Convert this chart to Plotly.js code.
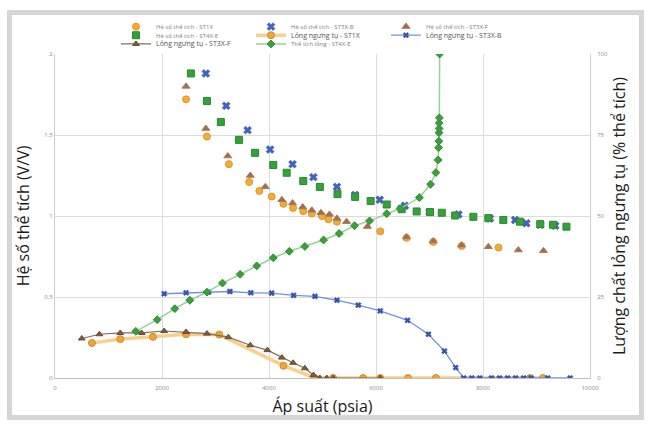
<!DOCTYPE html>
<html><head><meta charset="utf-8">
<script src="https://cdn.plot.ly/plotly-3.0.1.min.js"></script>
<style>
html,body{margin:0;padding:0;background:#fff;}
#wrap{position:relative;width:651px;height:426px;}
#chart{position:absolute;left:0;top:0;width:651px;height:426px;}
#frame{position:absolute;left:7px;top:10px;width:627px;height:400px;border:5px solid #d6d6d6;pointer-events:none;}
</style></head>
<body><div id="wrap"><div id="chart"></div><div id="frame"></div></div>
<script>
// Volume factor (V/V), left axis
const pST1X = [2450, 2840, 3250, 3630, 3820, 4050, 4270, 4450, 4640, 4800, 4990, 5110, 5270, 6080, 6570, 7070, 7600, 8290];
const vST1X = [1.72, 1.49, 1.32, 1.21, 1.155, 1.12, 1.075, 1.05, 1.03, 1.015, 1.0, 0.98, 0.965, 0.905, 0.865, 0.84, 0.815, 0.805];
const pST3XB = [2820, 3200, 3600, 4020, 4440, 4830, 5270, 5610, 6070, 6540, 7000, 7540, 8130, 8600, 8810, 9070, 9350];
const vST3XB = [1.88, 1.68, 1.53, 1.41, 1.32, 1.24, 1.18, 1.13, 1.10, 1.063, 1.025, 1.01, 0.985, 0.975, 0.955, 0.945, 0.94];
const pST3XF = [2450, 2820, 3230, 3650, 3930, 4240, 4440, 4630, 4800, 4970, 5130, 5270, 5450, 5840, 6570, 7070, 7600, 8100, 8660, 9130];
const vST3XF = [1.80, 1.54, 1.37, 1.25, 1.18, 1.10, 1.08, 1.055, 1.035, 1.02, 1.01, 0.985, 0.965, 0.935, 0.87, 0.845, 0.82, 0.81, 0.79, 0.785];
const pST4XE = [2540, 2840, 3100, 3440, 3740, 4080, 4330, 4640, 4950, 5280, 5610, 5900, 6200, 6480, 6760, 7010, 7230, 7480, 7820, 8100, 8380, 8690, 9070, 9310, 9560];
const vST4XE = [1.88, 1.71, 1.58, 1.47, 1.39, 1.315, 1.267, 1.216, 1.179, 1.135, 1.118, 1.092, 1.071, 1.042, 1.028, 1.024, 1.02, 1.003, 0.995, 0.987, 0.975, 0.965, 0.95, 0.946, 0.934];

// Condensate liquid (% volume), right axis
const cpST1X = [690, 1220, 1830, 2450, 3070, 4270, 4860, 5200, 5760, 6080, 6600, 7120, 8880, 9120];
const cvST1X = [10.8, 12.0, 12.7, 13.5, 13.4, 3.8, 0, 0, 0, 0, 0, 0, 0, 0];
const cpST3XB = [2040, 2450, 2870, 3270, 3660, 4050, 4460, 4860, 5270, 5670, 6080, 6590, 6980, 7280, 7490, 7640, 7790, 7940, 8160, 8310, 8460, 8610, 8760, 8900, 9210, 9630];
const cvST3XB = [26.0, 26.3, 26.5, 26.7, 26.3, 26.2, 25.5, 25.2, 24.0, 22.5, 20.7, 17.8, 13.5, 8.3, 3.2, 0, 0, 0, 0, 0, 0, 0, 0, 0, 0, 0];
const cpST3XF = [500, 830, 1220, 1620, 2040, 2450, 2840, 3240, 3650, 3970, 4240, 4450, 4670, 4830, 4950, 5080, 5200, 6080];
const cvST3XF = [12.2, 13.5, 13.9, 13.9, 14.5, 14.2, 13.7, 12.6, 10.1, 8.6, 6.3, 4.7, 3.0, 0.9, 0, 0, 0, 0];
const cpST4XE = [1510, 1910, 2240, 2520, 2840, 3130, 3460, 3770, 4080, 4380, 4670, 5020, 5310, 5600, 5880, 6200, 6450, 6810, 7020, 7120, 7160, 7170, 7175, 7178, 7180, 7182, 7184, 7190];
const cvST4XE = [14.4, 18.0, 21.4, 24.0, 26.5, 29.3, 32.0, 34.6, 37.1, 39.1, 40.6, 42.6, 44.6, 47.0, 48.5, 50.7, 52.3, 55.7, 59.8, 63.4, 67.3, 71.1, 73.1, 75.7, 77.0, 78.7, 80.3, 100];

const xTicks = [0, 2000, 4000, 6000, 8000, 10000];
const yTicks = [0, 0.5, 1, 1.5, 2];
const y2Ticks = [0, 25, 50, 75, 100];

const big = s => '<span style="font-size:7px;fill:#555">' + s + '</span>';

const traces = [
  {x: pST1X, y: vST1X, name: 'Hệ số thể tích - ST1X', mode: 'markers', legend: 'legend',
   marker: {symbol: 'circle', size: 7, color: '#f2ab35', line: {color: '#e0962a', width: 1}}},
  {x: pST3XB, y: vST3XB, name: 'Hệ số thể tích - ST3X-B', mode: 'markers', legend: 'legend',
   marker: {symbol: 'x', size: 7, color: '#4363be', line: {color: '#2d4aa0', width: 0.5}}},
  {x: pST3XF, y: vST3XF, name: 'Hệ số thể tích - ST3X-F', mode: 'markers', legend: 'legend',
   marker: {symbol: 'triangle-up', size: 7, color: '#9b6f55', line: {color: '#b07a55', width: 1}}},
  {x: pST4XE, y: vST4XE, name: 'Hệ số thể tích - ST4X-E', mode: 'markers', legend: 'legend2',
   marker: {symbol: 'square', size: 7, color: '#36a03c', line: {color: '#2a8a30', width: 1}}},
  {x: cpST1X, y: cvST1X, yaxis: 'y2', name: big('Lỏng ngưng tụ - ST1X'), mode: 'lines+markers', legend: 'legend2',
   line: {color: '#f8cf8c', width: 3.5},
   marker: {symbol: 'circle', size: 7, color: '#eea43a', line: {color: '#d58b25', width: 1}}},
  {x: cpST3XB, y: cvST3XB, yaxis: 'y2', name: big('Lỏng ngưng tụ - ST3X-B'), mode: 'lines+markers', legend: 'legend2',
   line: {color: '#7591d8', width: 1.3},
   marker: {symbol: 'x', size: 5, color: '#3554b0', line: {color: '#2a4398', width: 0.5}}},
  {x: cpST3XF, y: cvST3XF, yaxis: 'y2', name: big('Lỏng ngưng tụ - ST3X-F'), mode: 'lines+markers', legend: 'legend3',
   line: {color: '#8a6a58', width: 1.2},
   marker: {symbol: 'triangle-up', size: 6, color: '#7e5a46', line: {color: '#6a4a38', width: 1}}},
  {x: cpST4XE, y: cvST4XE, yaxis: 'y2', name: 'Thể tích lỏng - ST4X-E', mode: 'lines+markers', legend: 'legend3',
   line: {color: '#93d493', width: 1.5},
   marker: {symbol: 'diamond', size: 6, color: '#3d9e40', line: {color: '#2f8a33', width: 1}}}
];

const legBase = {
  orientation: 'h', xanchor: 'left', yanchor: 'middle', x: 0.114,
  entrywidth: 90, entrywidthmode: 'pixels', itemwidth: 30,
  bgcolor: 'rgba(0,0,0,0)', font: {size: 6, color: '#7f7f7f', family: 'Open Sans'}
};

const layout = {
  width: 651, height: 426,
  margin: {l: 55, r: 61, t: 52, b: 48, pad: 0},
  paper_bgcolor: '#ffffff', plot_bgcolor: '#ffffff',
  font: {family: 'Open Sans', color: '#222'},
  showlegend: true,
  legend: Object.assign({}, legBase, {y: 1.0845}),
  legend2: Object.assign({}, legBase, {y: 1.058}),
  legend3: Object.assign({}, legBase, {y: 1.031}),
  xaxis: {
    range: [0, 10000], tickvals: xTicks, ticktext: xTicks.map(String),
    showgrid: true, gridcolor: '#dcdcdc', gridwidth: 1,
    zeroline: false, showline: true, linecolor: '#bfbfbf', mirror: false,
    ticks: '', ticklabelstandoff: 4, tickfont: {size: 6, color: '#8a8a8a'},
    title: {text: 'Áp suất (psia)', font: {size: 16, color: '#1a1a1a'}, standoff: 9}
  },
  yaxis: {
    range: [0, 2], tickvals: yTicks, ticktext: yTicks.map(String),
    showgrid: true, gridcolor: '#dcdcdc', gridwidth: 1,
    zeroline: false, showline: true, linecolor: '#d0d0d0',
    ticks: '', tickfont: {size: 6, color: '#8a8a8a'},
    title: {text: 'Hệ số thể tích (V/V)', font: {size: 16, color: '#1a1a1a'}, standoff: 10}
  },
  yaxis2: {
    range: [0, 100], tickvals: y2Ticks, ticktext: y2Ticks.map(String),
    overlaying: 'y', side: 'right', showgrid: false,
    zeroline: false, showline: true, linecolor: '#d0d0d0',
    ticks: '', ticklabelstandoff: 5, tickfont: {size: 6, color: '#8a8a8a'},
    title: {text: 'Lượng chất lỏng ngưng tụ (% thể tích)', font: {size: 16, color: '#1a1a1a'}, standoff: 6}
  }
};

Plotly.newPlot('chart', traces, layout, {staticPlot: true, displayModeBar: false});
</script></body></html>
